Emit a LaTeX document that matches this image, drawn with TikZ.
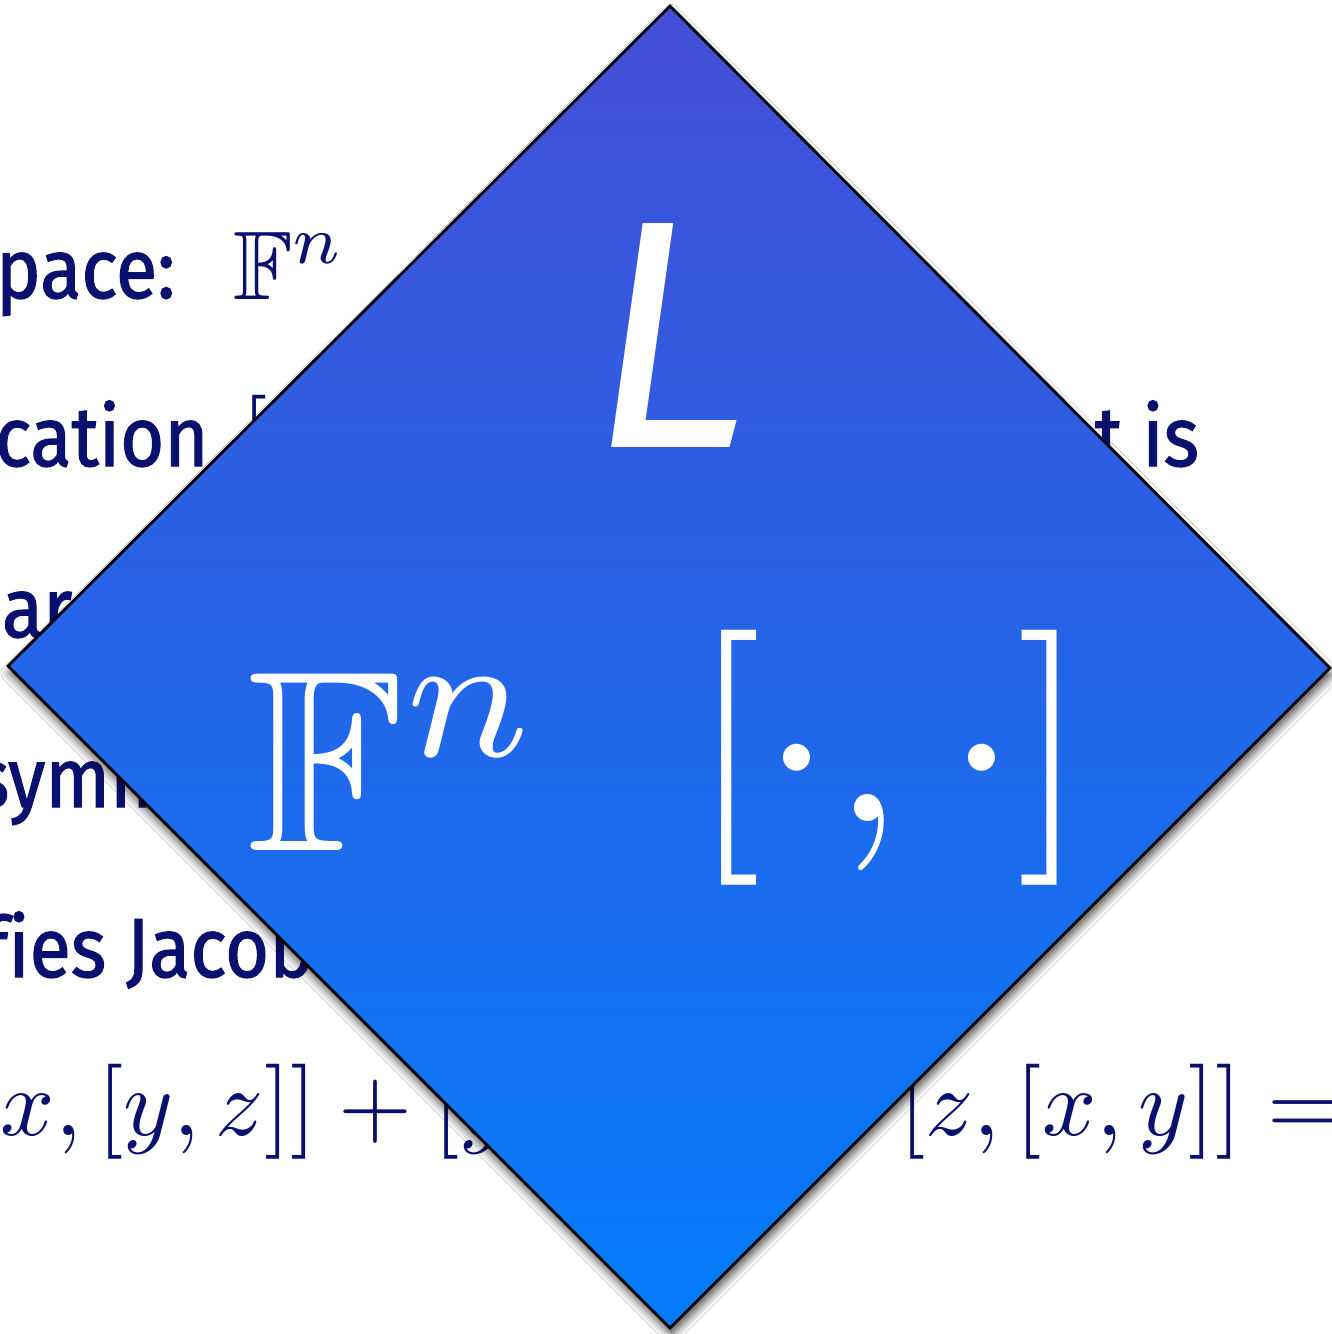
\documentclass[tikz,border=0pt]{standalone}
\usepackage{fontspec}
\usepackage{amssymb}
\usepackage{graphicx}
\setmainfont{Fira Sans}[Ligatures=NoCommon]
\newfontfamily\bgfont{Fira Sans}[Ligatures=NoCommon, FakeStretch=0.9, FakeBold=1.4]
\usetikzlibrary{shadows.blur}
\definecolor{navy}{RGB}{10,16,110}
\definecolor{dtop}{RGB}{68,78,214}
\definecolor{dbot}{RGB}{4,124,250}
\tikzset{
  bgtext/.style={anchor=base west, inner sep=0pt, text=navy, font=\bgfont\fontsize{16.8}{20}\selectfont},
  bgmath/.style={anchor=base west, inner sep=0pt, text=navy},
  wtext/.style={anchor=base west, inner sep=0pt, text=white},
  diamondshape/.style={draw=black, line width=0.55pt, top color=dtop, bottom color=dbot, line join=miter,
    blur shadow={shadow xshift=0.3pt, shadow yshift=-1.4pt, shadow blur radius=1.7pt, shadow opacity=70}}
}
\begin{document}
\begin{tikzpicture}[x=0.2pt,y=-0.2pt]
\useasboundingbox (0,0) rectangle (1332,1334);
\clip (0,0) rectangle (1332,1334);
\fill[white] (0,0) rectangle (1332,1334);

% background slide text
\node[bgtext] (l1) at (-5,298) {pace:};
\node[bgmath] (l1m) at (232,299) {\scalebox{1.95}{$\mathbb{F}^n$}};
\node[bgtext] (l2) at (-6,466) {cation};
\node[bgmath] (l2m) at (240,466) {\scalebox{1.9}{$[$}};
\node[bgtext] (l2b) at (1094,466) {t is};
\node[bgtext] (l3) at (1,637) {ar};
\node[bgtext] (l4) at (-27,807) {symm};
\node[bgtext] (l5) at (-18,977) {fies Jacob};
\node[bgmath] (l6a) at (0,1135) {\scalebox{1.9}{$x,[y,z]]+[y$}};
\node[bgmath] (l6b) at (898,1135) {\scalebox{1.9}{$[z,[x,y]]=$}};

% diamond
\coordinate (dT) at (670,6);
\coordinate (dR) at (1330,668);
\coordinate (dB) at (670,1328);
\coordinate (dL) at (8,666);
\path[diamondshape] (dT) -- (dR) -- (dB) -- (dL) -- cycle;

% white labels
\node[wtext, font=\fontsize{65}{70}\selectfont\itshape] (L) at (590,447) {L};
\node[wtext] (Fn) at (246,850) {\scalebox{5.15}{$\mathbb{F}^n$}};
\node[wtext] (br) at (690,821) {\scalebox{5.1}{$[\cdot,\cdot]$}};
\end{tikzpicture}
\end{document}
